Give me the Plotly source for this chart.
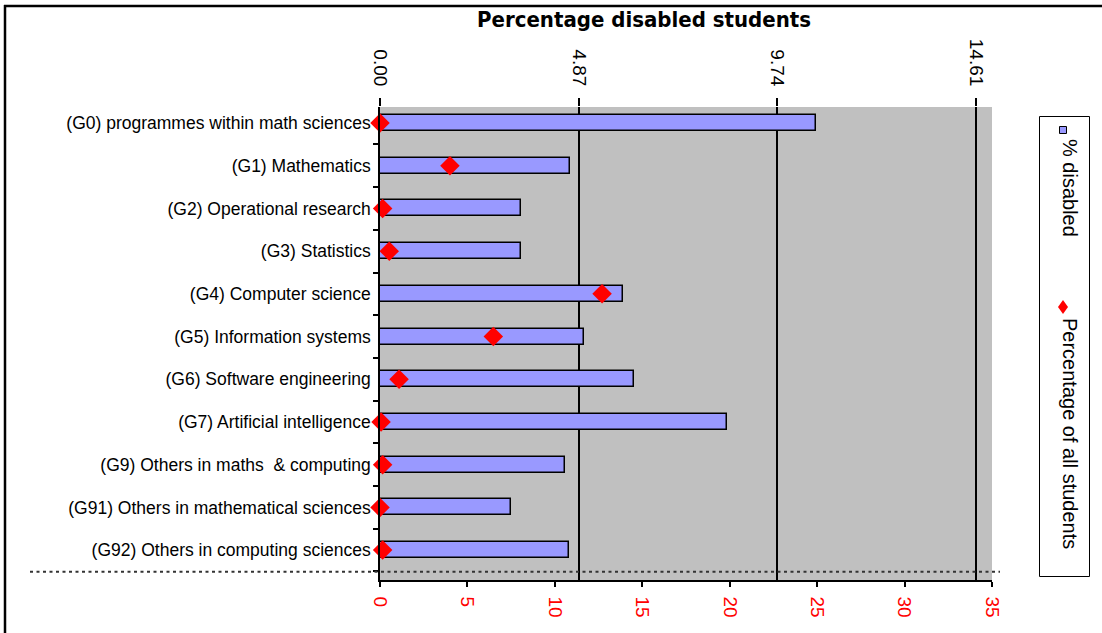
import plotly.graph_objects as go

categories = [
    "(G0) programmes within math sciences",
    "(G1) Mathematics",
    "(G2) Operational research",
    "(G3) Statistics",
    "(G4) Computer science",
    "(G5) Information systems",
    "(G6) Software engineering",
    "(G7) Artificial intelligence",
    "(G9) Others in maths  & computing",
    "(G91) Others in mathematical sciences",
    "(G92) Others in computing sciences",
]
pct_disabled = [10.69, 4.66, 3.45, 3.45, 5.95, 5.01, 6.23, 8.50, 4.54, 3.21, 4.62]
pct_all_students = [0.0, 4.0, 0.15, 0.53, 12.7, 6.48, 1.09, 0.06, 0.15, 0.0, 0.15]
top_ticks = [0.0, 4.87, 9.74, 14.61]
top_tick_labels = ["0.00", "4.87", "9.74", "14.61"]

W, H = 1102, 633
L, R, T, B = 380, 110, 107, 53
PW, PH = W - L - R, H - T - B


def fx(px):
    return (px - L) / PW


def fy(py):
    return (H - B - py) / PH


pos = list(range(len(categories)))
FONT = "Liberation Sans, Arial, sans-serif"

fig = go.Figure()
fig.add_trace(go.Bar(
    x=pct_disabled, y=pos, orientation="h", xaxis="x", yaxis="y",
    width=0.375, name="% disabled",
    marker=dict(color="#9999ff", line=dict(color="black", width=1.5)),
    cliponaxis=False, showlegend=False,
))
fig.add_trace(go.Scatter(
    x=pct_all_students, y=pos, mode="markers", xaxis="x2", yaxis="y",
    name="Percentage of all students",
    marker=dict(symbol="diamond", color="red", size=15, line=dict(width=0)),
    cliponaxis=False, showlegend=False,
))

shapes = [
    # dotted line
    dict(type="line", xref="paper", yref="paper", x0=fx(30), x1=fx(1000),
         y0=fy(571.7), y1=fy(571.7), line=dict(color="#333333", width=2, dash="3px,3.5px")),
    # outer frame
    dict(type="line", xref="paper", yref="paper", x0=fx(5), x1=fx(5),
         y0=fy(5), y1=fy(640), line=dict(color="black", width=2.5)),
    dict(type="line", xref="paper", yref="paper", x0=fx(4), x1=fx(1110),
         y0=fy(6), y1=fy(6), line=dict(color="black", width=2.5)),
    # legend box
    dict(type="rect", xref="paper", yref="paper", x0=fx(1039.5), x1=fx(1089.5),
         y0=fy(116.5), y1=fy(576.5), line=dict(color="black", width=1), fillcolor="white"),
    # legend square
    dict(type="rect", xref="paper", yref="paper", x0=fx(1059.5), x1=fx(1066.5),
         y0=fy(126.5), y1=fy(133.5), line=dict(color="black", width=1), fillcolor="#9999ff"),
    # legend diamond
    dict(type="path", xref="paper", yref="paper",
         path="M {a},{b} L {c},{d} L {a},{e} L {f},{d} Z".format(
             a=fx(1063), b=fy(300), c=fx(1068), d=fy(307), e=fy(314), f=fx(1058)),
         line=dict(width=0), fillcolor="red"),
]

annotations = [
    dict(text="<b>Percentage disabled students</b>", xref="paper", yref="paper",
         x=fx(644), y=fy(20), xanchor="center", yanchor="middle", showarrow=False,
         font=dict(family="Liberation Sans Narrow, DejaVu Sans Condensed, Liberation Sans", size=22, color="black")),
    dict(text="% disabled", xref="paper", yref="paper", x=fx(1070), y=fy(188),
         xanchor="center", yanchor="middle", textangle=90, showarrow=False,
         font=dict(family=FONT, size=20, color="black")),
    dict(text="Percentage of all students", xref="paper", yref="paper", x=fx(1070), y=fy(433),
         xanchor="center", yanchor="middle", textangle=90, showarrow=False,
         font=dict(family=FONT, size=20, color="black")),
]

fig.update_layout(
    width=W, height=H, autosize=False,
    margin=dict(l=L, r=R, t=T, b=B, pad=0),
    paper_bgcolor="white", plot_bgcolor="#c0c0c0",
    font=dict(family=FONT, color="black"),
    bargap=0,
    xaxis=dict(
        range=[0, 15], side="top", anchor="y",
        tickmode="array", tickvals=top_ticks, ticktext=top_tick_labels,
        tickangle=90, ticks="outside", ticklen=8, tickwidth=1.5, tickcolor="black",
        tickfont=dict(size=19, family=FONT, color="black"),
        ticklabelstandoff=5,
        showgrid=True, gridcolor="black", gridwidth=1.5,
        showline=False, zeroline=False,
    ),
    xaxis2=dict(
        range=[0, 35], tick0=0, dtick=5, side="bottom", anchor="y", overlaying="x",
        showline=True, linecolor="black", linewidth=1.5,
        ticks="outside", ticklen=5, tickwidth=1.5, tickcolor="black",
        tickfont=dict(color="red", size=19, family=FONT), tickangle=90,
        ticklabelstandoff=6,
        showgrid=False, zeroline=False,
    ),
    yaxis=dict(
        range=[10.70, -0.375], tickmode="array", tickvals=pos, ticktext=categories,
        ticks="", showline=True, linecolor="black", linewidth=1.5,
        tickfont=dict(size=17.5, family=FONT, color="black"),
        ticklabelstandoff=4,
        minor=dict(tickvals=[i + 0.5 for i in range(len(categories))], ticks="outside",
                   ticklen=5, tickwidth=1.5, tickcolor="black", showgrid=False),
        showgrid=False, zeroline=False,
    ),
    shapes=shapes,
    annotations=annotations,
)

fig.write_html("out.html", config={"displayModeBar": False},
               post_script="document.body.style.margin='0px';")
